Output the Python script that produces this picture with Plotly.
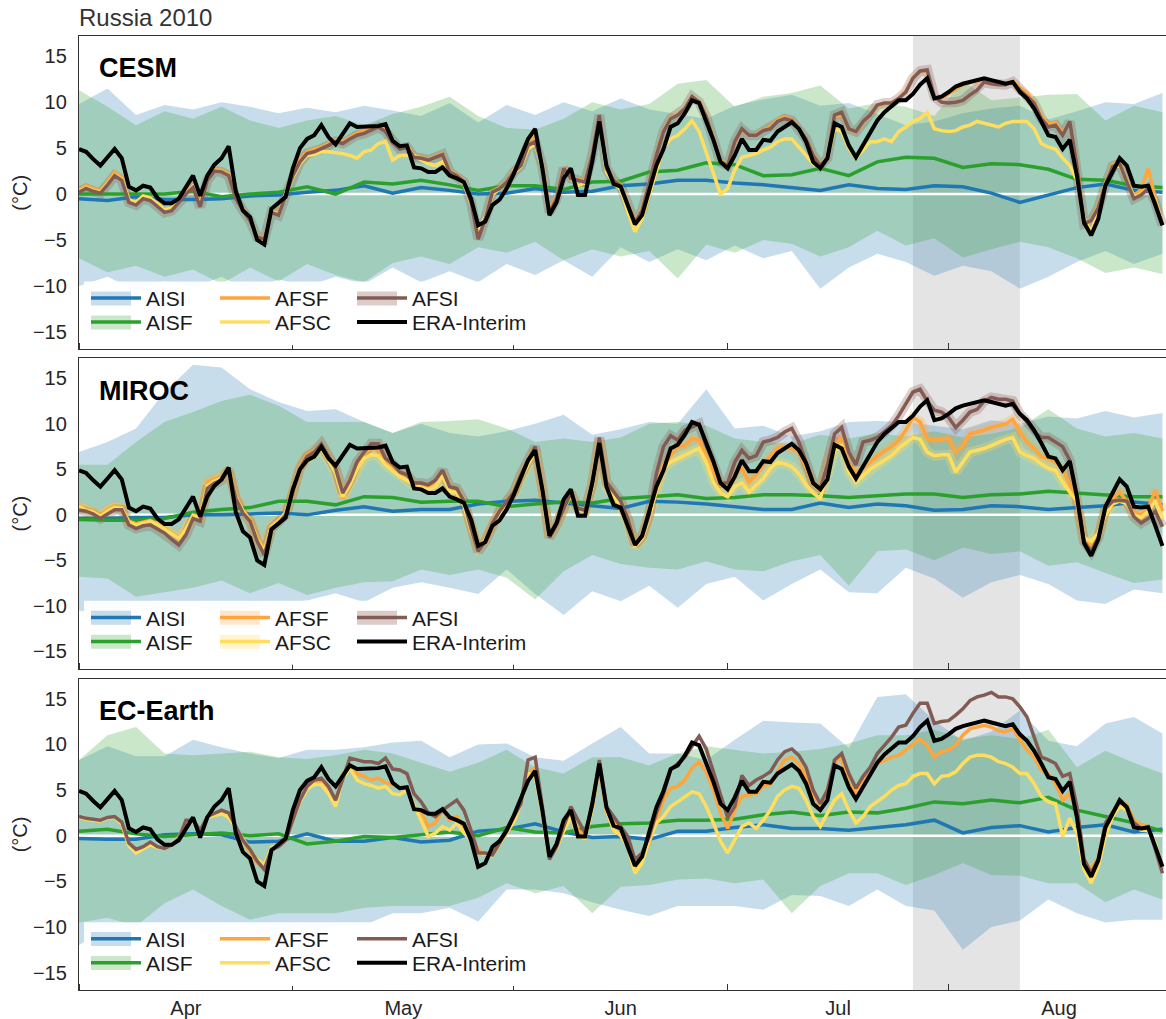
import plotly.graph_objects as go
from plotly.subplots import make_subplots
import pandas as pd

# ---------------- data ----------------
dates = pd.date_range("2010-04-01", "2010-08-31", freq="D")   # daily, 153 days
band_dates = dates[::4]                                          # ensemble spread / means, every 4 days
HEAT_START = "2010-07-27"
HEAT_END = "2010-08-11"
panel_names = ["CESM", "MIROC", "EC-Earth"]
month_ticks_start = "2010-04-01"
y_ticks = [-15, -10, -5, 0, 5, 10, 15]

era_interim = [
    4.9, 4.6, 3.8, 3.1, 4.0, 4.9, 3.9, 0.8, 0.4, 0.9,
    0.7, -0.4, -1.0, -1.0, -0.5, 0.8, 2.0, -0.2, 2.0, 3.2,
    3.9, 5.2, 0.3, -1.8, -2.5, -5.0, -5.5, -1.6, -1.0, -0.3,
    2.8, 5.0, 6.0, 6.4, 7.5, 6.2, 5.4, 6.6, 7.7, 7.3,
    7.3, 7.4, 7.4, 7.6, 5.8, 5.2, 5.3, 2.9, 2.8, 2.4,
    2.4, 2.9, 2.0, 1.7, 1.3, -0.5, -3.4, -3.0, -1.2, -0.6,
    0.6, 2.2, 4.0, 6.0, 7.1, 2.8, -2.3, -0.9, 1.7, 2.8,
    -0.1, -0.1, 3.5, 7.9, 3.1, 1.1, 0.8, -1.2, -3.3, -2.3,
    0.6, 3.1, 4.9, 7.3, 7.7, 8.8, 10.2, 9.9, 7.9, 5.9,
    3.5, 2.8, 4.2, 6.0, 4.8, 4.8, 5.9, 5.8, 6.8, 7.3,
    7.8, 7.1, 5.7, 3.5, 2.8, 3.9, 7.7, 7.3, 5.3, 4.0,
    5.3, 6.8, 8.0, 8.9, 9.5, 10.2, 10.2, 10.9, 11.9, 12.6,
    10.4, 10.6, 11.1, 11.7, 12.0, 12.2, 12.4, 12.6, 12.4, 12.2,
    12.0, 12.2, 11.1, 10.4, 9.3, 7.9, 6.4, 6.2, 4.9, 5.9,
    2.0, -3.1, -4.5, -2.7, 0.9, 2.4, 3.9, 3.1, 0.9, 0.8,
    0.9, -1.2, -3.4]

# ---- CESM ----
cesm_afsi = [
    0.2, 0.6, 0.3, 0.1, 1.0, 2.0, 1.5, -0.9, -1.2, -0.5,
    -0.7, -1.4, -2.0, -1.8, -0.9, 0.0, 0.7, -1.4, 1.5, 2.5,
    2.4, 2.0, -0.5, -1.8, -2.9, -4.7, -4.9, -2.0, -2.3, -0.1,
    2.0, 3.5, 4.4, 4.6, 4.9, 5.3, 5.7, 5.5, 6.0, 6.4,
    6.6, 6.9, 7.3, 6.8, 5.6, 4.9, 5.1, 4.0, 3.9, 3.7,
    4.0, 4.3, 2.4, 2.0, 1.3, -0.9, -4.9, -2.7, 0.2, 0.6,
    1.3, 2.4, 3.1, 5.3, 5.7, 3.1, -2.0, -0.5, 2.8, 1.7,
    1.5, 1.3, 4.2, 8.6, 2.8, 1.5, 0.9, -1.2, -3.1, -1.8,
    1.3, 4.2, 6.8, 8.2, 8.6, 9.3, 10.6, 10.0, 8.4, 6.0,
    3.5, 3.1, 5.7, 7.1, 6.4, 6.4, 6.9, 7.1, 7.9, 8.2,
    8.0, 7.1, 6.0, 4.2, 3.1, 3.9, 8.6, 8.9, 7.1, 6.8,
    7.9, 8.6, 9.7, 9.9, 9.9, 10.4, 11.1, 12.6, 13.4, 13.5,
    10.6, 10.0, 9.9, 10.0, 10.2, 10.8, 11.3, 12.2, 12.0, 11.9,
    11.9, 12.2, 11.3, 10.6, 9.9, 8.2, 7.3, 7.5, 6.4, 7.9,
    3.1, -3.2, -2.9, -1.5, 1.0, 3.0, 3.3, 1.3, -0.5, -0.1,
    0.6, -0.9, -3.4]
cesm_afsf = [
    0.5, 0.9, 0.6, 0.4, 1.3, 2.4, 1.8, -0.6, -1.0, -0.3,
    -0.5, -1.2, -1.8, -1.6, -0.7, 0.2, 0.9, -1.2, 1.7, 2.7,
    2.6, 2.2, -0.3, -1.6, -2.8, -4.6, -4.8, -1.8, -2.1, 0.1,
    2.3, 3.8, 4.6, 4.9, 5.1, 5.5, 5.9, 5.7, 6.2, 6.6,
    6.9, 7.1, 7.4, 7.0, 5.7, 5.1, 5.3, 4.2, 4.0, 3.8,
    4.1, 4.4, 2.5, 2.1, 1.4, -0.6, -4.5, -2.5, 0.3, 0.7,
    1.4, 2.6, 3.4, 5.8, 6.2, 3.2, -1.8, -0.3, 2.9, 1.8,
    1.6, 1.4, 4.3, 8.5, 2.9, 1.6, 1.0, -1.1, -3.0, -1.7,
    1.4, 4.3, 6.9, 8.3, 8.7, 9.4, 10.6, 10.1, 8.5, 6.1,
    3.6, 3.2, 5.6, 7.0, 6.3, 6.5, 7.0, 7.3, 8.1, 8.4,
    8.1, 7.2, 6.1, 4.3, 3.2, 4.0, 8.4, 8.7, 7.0, 6.7,
    7.8, 8.5, 9.6, 9.8, 9.9, 10.4, 11.2, 12.7, 13.3, 13.4,
    10.5, 10.4, 10.9, 11.5, 11.9, 12.1, 12.3, 12.4, 12.3, 12.2,
    12.0, 12.3, 11.6, 11.0, 10.0, 8.5, 7.6, 7.8, 6.6, 7.8,
    3.3, -3.0, -2.8, -1.3, 1.2, 3.2, 3.5, 1.5, -0.2, 0.5,
    2.8, -0.5, -3.3]
cesm_afsc = [
    0.3, 0.7, 0.4, 0.2, 1.1, 2.1, 1.6, -0.6, -0.9, -0.2,
    -0.4, -1.1, -1.7, -1.5, -0.7, 0.1, 0.8, -1.2, 1.6, 2.5,
    2.4, 2.0, -0.4, -1.7, -2.9, -4.8, -5.0, -1.9, -2.2, -0.2,
    1.8, 3.3, 4.2, 4.3, 4.6, 4.6, 4.5, 4.4, 4.2, 3.9,
    4.6, 4.8, 5.5, 5.7, 3.7, 4.2, 4.2, 4.2, 3.7, 3.3,
    3.1, 3.5, 2.0, 1.7, 1.1, -1.1, -3.8, -2.5, -0.1, 0.6,
    1.3, 2.3, 3.0, 4.9, 5.5, 2.8, -2.1, -0.6, 2.6, 1.7,
    0.9, 1.2, 4.0, 8.2, 2.4, 1.1, 0.5, -2.0, -4.1, -2.7,
    -0.1, 2.4, 5.0, 6.0, 6.4, 7.1, 8.0, 6.8, 4.6, 2.4,
    0.0, 0.6, 2.6, 4.0, 4.2, 4.4, 4.8, 5.1, 5.7, 6.0,
    6.0, 5.1, 4.2, 3.3, 2.8, 3.9, 7.1, 6.8, 5.0, 3.9,
    4.8, 5.7, 5.7, 6.0, 5.7, 6.8, 7.3, 7.9, 8.2, 8.9,
    7.1, 6.9, 6.8, 6.9, 7.3, 7.5, 7.9, 7.7, 7.5, 7.3,
    7.7, 7.9, 7.9, 7.9, 7.1, 5.5, 5.1, 4.9, 3.9, 3.1,
    1.5, -2.7, -4.1, -1.8, 0.8, 2.8, 3.2, 1.3, -0.3, 0.0,
    0.8, -0.7, -3.2]
cesm_aisi = [
    -0.5, -0.7, -0.3, -0.6, -0.6, -0.5, -0.2, -0.1, 0.2, 0.4,
    0.9, 0.1, 0.7, 0.4, 0.0, 0.1, 0.6, 0.2, 0.3, 0.9,
    1.1, 1.5, 1.5, 1.2, 1.0, 0.7, 0.4, 1.0, 0.6, 0.5,
    0.9, 0.8, 0.1, -0.9, -0.1, 0.7, 1.1, 0.4, 0.2]
cesm_aisf = [
    0.0, 0.0, 0.0, 0.0, 0.3, -0.3, 0.0, 0.2, 0.8, 0.0,
    1.3, 1.1, 1.5, 1.0, 0.4, 0.9, 0.9, 0.5, 1.3, 1.4,
    2.4, 2.6, 3.4, 3.2, 2.0, 2.1, 2.8, 2.0, 3.5, 4.0,
    3.9, 2.9, 3.3, 3.2, 2.7, 1.6, 1.5, 0.9, 0.7]
cesm_aisi_hi = [
    9.8, 11.5, 8.6, 9.7, 9.2, 10.0, 9.5, 8.8, 9.4, 8.9,
    9.6, 9.1, 8.5, 9.9, 7.8, 9.7, 8.6, 10.0, 9.0, 10.4,
    9.2, 8.7, 8.2, 9.6, 10.3, 10.8, 9.6, 9.9, 8.7, 7.5,
    7.9, 8.8, 9.3, 9.6, 8.1, 9.0, 10.0, 9.8, 11.0]
cesm_aisi_lo = [
    -10.0, -9.0, -10.5, -9.5, -10.2, -9.0, -10.6, -9.3, -10.0, -9.0,
    -9.8, -8.0, -9.6, -8.4, -9.6, -7.6, -8.8, -7.2, -9.0, -5.8,
    -7.4, -6.0, -7.2, -5.6, -7.0, -6.2, -10.3, -8.0, -6.5, -7.4,
    -8.9, -7.8, -8.4, -10.3, -9.0, -7.4, -6.2, -7.6, -6.5]
cesm_aisf_hi = [
    11.3, 9.5, 7.5, 9.0, 8.2, 9.5, 8.0, 7.2, 8.0, 8.5,
    7.5, 8.7, 9.5, 10.6, 8.5, 7.2, 7.0, 8.2, 10.0, 9.2,
    9.8, 12.0, 12.4, 9.5, 10.6, 11.0, 11.8, 9.3, 9.9, 9.5,
    8.5, 12.3, 10.2, 10.5, 10.8, 10.9, 8.0, 9.6, 8.9]
cesm_aisf_lo = [
    -7.0, -8.5, -7.8, -9.0, -8.2, -9.8, -8.0, -9.5, -7.6, -8.8,
    -9.6, -7.5, -6.8, -7.6, -5.8, -6.4, -5.2, -7.2, -6.0, -6.8,
    -6.2, -9.2, -5.5, -6.4, -5.0, -5.4, -6.8, -5.8, -4.0, -5.6,
    -4.8, -6.9, -6.0, -5.2, -5.8, -7.0, -8.6, -8.0, -8.7]

# ---- MIROC ----
miroc_afsi = [
    0.55, 0.4, 0.1, -0.4, 0.1, 0.55, 0.55, -1.1, -1.5, -1.2,
    -1.1, -1.6, -2.0, -2.7, -3.3, -2.2, -0.4, -0.7, 2.9, 3.5,
    3.8, 4.9, 1.8, 0.2, -0.7, -2.9, -4.4, -1.5, -0.9, 0.0,
    2.4, 5.1, 6.4, 6.9, 7.8, 6.5, 5.1, 2.4, 3.8, 5.8,
    6.9, 7.8, 7.8, 6.2, 5.6, 4.7, 4.4, 3.5, 3.5, 3.3,
    3.8, 4.9, 3.1, 2.9, 1.5, -1.5, -4.0, -2.9, -0.9, 0.4,
    1.5, 2.5, 4.4, 6.0, 7.5, 2.9, -2.5, -1.1, 0.7, 2.4,
    0.7, 0.5, 3.3, 8.5, 3.6, 2.5, 1.5, -0.4, -3.3, -2.4,
    0.0, 4.5, 7.5, 8.7, 8.2, 9.3, 9.6, 10.0, 7.6, 5.8,
    3.5, 3.5, 5.8, 7.1, 6.2, 6.5, 8.0, 8.2, 8.5, 9.1,
    9.5, 8.0, 5.8, 3.5, 2.9, 5.5, 8.9, 9.6, 6.9, 5.5,
    8.0, 8.2, 8.5, 9.1, 9.8, 10.9, 12.2, 13.5, 13.8, 12.5,
    11.5, 11.3, 10.7, 9.6, 10.4, 11.3, 11.6, 12.5, 12.9, 12.7,
    12.7, 12.5, 11.1, 10.2, 9.1, 8.5, 8.5, 8.0, 7.5, 6.0,
    2.2, -2.9, -4.0, -2.5, 0.7, 1.5, 1.6, 1.5, -0.2, -0.9,
    -0.4, 0.4, -1.3]
miroc_afsf = [
    1.0, 0.6, 0.4, 0.0, 0.6, 1.0, 0.8, -0.7, -1.0, -0.8,
    -0.6, -1.0, -1.5, -2.0, -2.5, -1.5, 0.0, -0.2, 3.6, 4.0,
    4.2, 5.0, 2.0, 0.5, -0.5, -2.5, -3.8, -1.2, -0.6, 0.3,
    2.6, 5.3, 6.6, 7.0, 7.6, 6.4, 4.9, 1.8, 3.5, 5.6,
    6.8, 7.3, 7.2, 6.0, 5.3, 4.5, 4.0, 3.4, 3.2, 3.0,
    3.3, 4.5, 2.9, 2.7, 1.3, -1.6, -3.7, -2.7, -0.8, 0.4,
    1.4, 2.4, 4.2, 5.8, 7.2, 2.8, -2.3, -0.9, 0.9, 2.4,
    0.8, 0.5, 3.2, 8.3, 3.3, 2.2, 1.2, -0.7, -3.4, -2.5,
    0.0, 3.0, 5.5, 6.5, 7.5, 7.6, 8.4, 8.2, 6.5, 4.7,
    3.3, 2.9, 4.4, 5.1, 3.6, 4.4, 5.5, 6.5, 7.3, 7.5,
    7.3, 6.9, 5.2, 3.3, 2.7, 5.8, 7.6, 8.5, 5.5, 4.7,
    5.1, 5.8, 6.5, 7.0, 7.5, 8.2, 9.3, 10.7, 10.2, 8.4,
    8.2, 8.3, 8.4, 6.9, 7.6, 8.9, 9.1, 9.3, 9.6, 9.8,
    10.0, 10.5, 9.1, 8.0, 7.3, 6.4, 6.2, 5.8, 5.1, 3.3,
    1.1, -2.9, -3.3, -2.2, 0.4, 1.8, 2.5, 1.5, 0.4, 0.0,
    0.7, 2.7, 0.4]
miroc_afsc = [
    0.9, 0.5, 0.3, -0.2, 0.4, 0.8, 0.7, -0.8, -1.1, -0.9,
    -0.7, -1.1, -1.6, -2.1, -2.6, -1.6, -0.1, -0.3, 3.2, 3.7,
    4.0, 4.8, 1.9, 0.4, -0.6, -2.7, -4.0, -1.3, -0.7, 0.2,
    2.5, 5.0, 6.2, 6.7, 7.2, 6.0, 4.6, 2.0, 3.3, 5.0,
    6.2, 6.6, 6.5, 5.5, 4.9, 4.2, 3.8, 3.2, 3.0, 2.8,
    3.1, 4.3, 2.6, 2.4, 1.0, -1.8, -3.6, -2.8, -1.0, 0.2,
    1.2, 2.2, 4.0, 5.6, 7.0, 2.6, -2.4, -1.0, 0.7, 2.2,
    0.6, 0.3, 3.0, 8.0, 3.0, 2.0, 1.0, -0.9, -3.5, -2.6,
    -0.3, 2.6, 5.1, 5.8, 6.2, 6.5, 6.9, 7.3, 5.8, 3.6,
    2.4, 2.0, 3.1, 3.5, 2.5, 3.3, 4.0, 5.1, 5.8, 5.6,
    5.3, 4.5, 3.3, 2.4, 1.8, 4.5, 7.0, 7.6, 4.7, 3.6,
    4.3, 5.0, 5.5, 6.0, 6.5, 7.3, 7.9, 8.5, 8.3, 6.9,
    6.5, 6.6, 6.6, 4.7, 5.8, 6.9, 7.1, 7.3, 7.6, 8.0,
    8.3, 8.5, 6.9, 6.5, 6.2, 5.6, 5.1, 4.9, 3.6, 2.5,
    1.5, -2.5, -2.9, -2.0, 0.0, 1.2, 1.5, 1.2, 0.0, -0.3,
    0.4, 1.5, -0.5]
miroc_aisi = [
    -0.4, -0.4, -0.3, -0.3, 0.0, 0.0, 0.1, 0.2, 0.0, 0.5,
    0.9, 0.4, 0.6, 0.6, 1.2, 1.5, 1.6, 1.3, 1.0, 0.7,
    1.5, 1.4, 1.2, 0.9, 0.6, 0.6, 1.3, 0.8, 1.2, 1.0,
    0.5, 0.6, 1.0, 0.9, 0.6, 0.8, 1.0, 1.4, 1.1]
miroc_aisf = [
    -0.5, -0.6, -0.6, -0.4, 0.3, 0.6, 0.8, 1.5, 1.5, 1.1,
    2.0, 1.9, 1.4, 1.5, 1.5, 0.9, 1.2, 1.4, 1.3, 1.8,
    2.0, 2.2, 1.8, 1.9, 2.2, 2.2, 2.1, 1.9, 2.1, 2.3,
    2.3, 1.9, 2.2, 2.3, 2.6, 2.4, 2.2, 2.0, 2.0]
miroc_aisi_hi = [
    6.9, 8.0, 9.5, 13.5, 16.5, 16.2, 13.8, 12.4, 11.4, 11.6,
    10.2, 9.0, 10.0, 9.0, 8.6, 9.2, 10.0, 11.0, 8.8, 9.4,
    10.2, 10.0, 13.8, 9.5, 9.8, 8.6, 9.2, 10.2, 10.3, 10.2,
    9.8, 9.4, 10.4, 10.0, 10.8, 10.6, 11.4, 10.7, 11.2]
miroc_aisi_lo = [
    -10.5, -11.0, -10.0, -10.5, -10.0, -11.0, -10.2, -9.8, -9.4, -8.6,
    -9.6, -8.0, -7.4, -8.0, -8.7, -6.0, -8.7, -11.0, -8.4, -9.5,
    -7.8, -10.2, -7.6, -6.8, -9.4, -7.6, -6.0, -8.5, -8.6, -5.8,
    -7.0, -9.1, -7.4, -6.6, -7.6, -9.4, -9.8, -8.2, -8.6]
miroc_aisf_hi = [
    5.5, 5.5, 8.0, 10.2, 11.3, 12.5, 13.2, 12.0, 10.2, 10.2,
    10.2, 9.0, 10.2, 10.3, 10.5, 9.5, 8.0, 8.4, 8.0, 8.5,
    10.0, 10.2, 9.8, 8.4, 8.0, 7.8, 8.8, 8.4, 9.0, 8.6,
    9.2, 8.5, 8.9, 9.6, 11.6, 9.5, 8.6, 9.0, 8.4]
miroc_aisf_lo = [
    -6.8, -7.0, -9.0, -8.5, -8.0, -7.2, -8.6, -7.5, -8.8, -8.0,
    -7.4, -7.3, -6.0, -6.6, -6.0, -6.9, -9.3, -6.2, -4.4, -5.4,
    -5.8, -6.0, -5.1, -6.0, -6.2, -5.1, -4.4, -7.8, -4.0, -3.8,
    -5.0, -3.6, -4.3, -4.0, -5.6, -5.2, -6.4, -7.5, -7.1]

# ---- EC-Earth ----
ec_afsi = [
    2.1, 1.9, 1.8, 1.7, 2.0, 2.1, 1.5, -0.8, -1.5, -1.2,
    -0.7, -1.2, -1.4, -1.0, -0.3, 1.7, 1.7, 0.6, 2.1, 2.5,
    2.8, 2.5, 1.0, -0.5, -1.5, -2.8, -3.7, -1.5, -1.2, -0.5,
    1.7, 3.9, 5.4, 6.1, 6.3, 5.4, 3.9, 6.1, 8.5, 8.3,
    8.1, 8.1, 7.9, 8.5, 7.3, 7.2, 6.8, 4.6, 3.7, 2.5,
    2.1, 2.8, 3.3, 3.9, 2.8, 0.6, -1.9, -1.9, -2.1, -0.8,
    0.5, 2.1, 3.5, 8.3, 8.6, 3.2, -2.6, -1.2, 1.0, 3.2,
    1.7, 0.3, 3.2, 8.3, 3.2, 2.1, 1.0, -0.1, -2.6, -1.9,
    -0.1, 2.5, 4.6, 7.2, 7.9, 8.6, 9.8, 10.9, 9.5, 7.0,
    4.5, 2.0, 3.2, 6.6, 5.5, 6.1, 6.5, 7.0, 8.3, 9.2,
    9.5, 8.8, 7.5, 5.0, 3.5, 5.0, 8.3, 9.0, 6.8, 5.2,
    6.5, 7.5, 9.0, 9.9, 10.8, 11.9, 12.1, 13.4, 14.5, 14.5,
    12.3, 12.5, 12.6, 13.2, 13.9, 14.8, 15.2, 15.4, 15.7, 15.2,
    15.2, 15.0, 14.1, 13.0, 10.8, 8.6, 8.3, 7.9, 6.5, 6.8,
    3.2, -2.6, -4.1, -2.6, 1.4, 2.5, 3.7, 3.2, 1.4, 0.8,
    1.0, -1.5, -4.1]
ec_afsf = [
    2.0, 1.8, 1.7, 1.6, 1.9, 2.0, 1.3, -1.0, -1.8, -1.4,
    -0.9, -1.3, -1.4, -1.0, -0.3, 1.6, 1.6, 0.5, 2.0, 2.3,
    2.6, 2.2, 0.8, -0.6, -1.8, -3.0, -3.4, -1.4, -1.1, -0.4,
    1.8, 3.9, 5.3, 5.9, 6.0, 5.2, 3.6, 6.8, 7.5, 6.8,
    6.5, 6.1, 6.3, 5.8, 5.6, 5.3, 5.2, 3.2, 2.5, 1.0,
    1.4, 2.8, 1.7, 2.1, 1.0, -0.1, -1.5, -2.1, -2.1, -0.8,
    0.3, 1.7, 3.9, 6.8, 7.5, 2.5, -2.5, -1.0, 1.0, 2.6,
    0.6, 0.0, 3.0, 7.5, 2.5, 1.4, 0.6, -0.5, -3.5, -2.6,
    -0.8, 1.7, 3.9, 5.2, 5.4, 6.1, 7.4, 8.1, 7.0, 5.0,
    2.5, 0.8, 2.8, 4.3, 4.5, 4.6, 5.4, 5.6, 7.0, 8.3,
    8.6, 7.9, 6.5, 4.5, 3.4, 5.0, 7.9, 8.6, 5.7, 4.8,
    6.0, 6.8, 7.9, 8.3, 8.6, 8.8, 9.4, 9.9, 10.6, 9.9,
    8.6, 9.2, 9.4, 9.9, 11.0, 11.7, 11.9, 12.1, 11.9, 11.5,
    11.4, 11.7, 10.5, 9.4, 8.6, 7.2, 6.8, 5.7, 3.9, 4.6,
    2.8, -2.6, -3.7, -2.4, 1.2, 2.5, 3.9, 3.4, 1.7, 1.2,
    1.0, -1.2, -3.7]
ec_afsc = [
    2.0, 1.8, 1.7, 1.6, 1.9, 2.0, 1.3, -1.1, -1.9, -1.5,
    -1.0, -1.3, -1.4, -0.9, -0.2, 1.6, 1.6, 0.6, 2.0, 2.2,
    2.4, 2.0, 0.8, -0.4, -1.5, -2.6, -3.2, -1.3, -1.0, -0.4,
    1.7, 3.7, 5.1, 5.6, 5.6, 4.6, 3.2, 6.3, 7.4, 6.1,
    5.7, 5.5, 5.2, 5.4, 4.6, 4.5, 5.0, 3.4, 1.7, -0.1,
    0.3, 1.0, 0.6, 1.4, 0.3, -0.5, -1.9, -2.0, -2.2, -0.9,
    0.3, 1.5, 3.5, 6.8, 6.5, 2.5, -2.2, -1.4, 0.5, 2.0,
    -0.1, -0.3, 2.9, 7.9, 2.8, 0.6, 0.0, -1.2, -4.1, -3.0,
    -0.5, 1.4, 2.1, 3.2, 3.7, 4.3, 4.8, 4.6, 3.2, 1.4,
    -0.6, -1.9, -0.5, 1.0, 1.4, 0.8, 1.7, 2.8, 4.3, 5.0,
    5.4, 5.2, 3.9, 2.1, 1.0, 2.5, 3.9, 4.6, 2.8, 1.4,
    2.1, 3.2, 3.7, 4.3, 5.0, 5.5, 5.7, 6.5, 6.8, 6.8,
    5.7, 6.5, 6.6, 7.0, 7.9, 8.6, 8.8, 8.8, 8.6, 8.1,
    7.9, 7.5, 6.8, 6.8, 5.7, 4.3, 3.7, 3.5, -0.1, 1.9,
    0.3, -3.7, -5.2, -3.4, -0.1, 2.1, 3.2, 2.8, 1.4, 0.6,
    0.6, -0.8, -3.5]
ec_aisi = [
    -0.3, -0.4, -0.4, 0.1, 0.2, 0.1, -0.7, -0.6, 0.2, -0.6,
    -0.6, -0.2, -0.7, -0.5, 0.5, 0.7, 1.3, 0.4, -0.2, -0.1,
    -0.4, 0.5, 0.5, 0.9, 1.2, 0.8, 0.8, 0.6, 0.9, 1.2,
    1.7, 0.3, 0.9, 1.1, 0.4, 0.9, 1.2, 0.4, 0.7]
ec_aisf = [
    0.5, 0.7, 0.2, -0.1, 0.1, 0.3, 0.0, 0.2, -0.9, -0.6,
    -0.1, -0.2, 0.1, 0.4, 0.0, 0.9, 0.4, 0.3, 1.0, 1.3,
    1.4, 1.7, 1.7, 1.8, 2.3, 2.6, 2.2, 2.6, 2.5, 3.0,
    3.7, 3.5, 3.9, 3.6, 4.2, 2.8, 2.1, 1.4, 0.5]
ec_aisi_hi = [
    8.3, 9.8, 8.7, 8.7, 10.5, 9.7, 9.0, 8.5, 9.4, 9.4,
    9.7, 10.2, 10.4, 8.6, 10.0, 10.1, 8.6, 8.2, 10.1, 11.9,
    9.0, 9.0, 8.3, 10.5, 12.6, 12.4, 12.3, 9.6, 15.2, 15.5,
    12.6, 10.4, 11.4, 13.7, 10.4, 9.8, 12.3, 13.0, 11.2]
ec_aisi_lo = [
    -12.0, -10.0, -10.5, -11.0, -10.2, -10.8, -10.0, -11.0, -10.4, -10.0,
    -9.8, -8.5, -8.5, -7.9, -9.4, -5.9, -5.9, -6.3, -7.3, -8.1,
    -8.8, -7.7, -7.7, -7.7, -8.1, -6.5, -6.6, -7.7, -5.9, -7.7,
    -8.2, -12.5, -10.0, -9.3, -7.0, -8.5, -9.5, -9.2, -9.2]
ec_aisf_hi = [
    8.3, 11.0, 11.9, 9.0, 8.8, 9.0, 9.2, 8.6, 8.4, 8.8,
    9.4, 9.0, 8.0, 7.0, 8.0, 9.4, 7.5, 6.8, 8.6, 8.6,
    7.7, 9.0, 9.8, 9.4, 9.0, 9.2, 9.5, 10.1, 11.0, 11.0,
    11.6, 10.6, 11.0, 10.6, 11.6, 7.5, 9.3, 8.0, 6.8]
ec_aisf_lo = [
    -9.5, -9.0, -9.9, -7.4, -5.9, -7.7, -9.2, -8.5, -8.5, -8.5,
    -7.9, -7.7, -7.7, -7.7, -6.8, -5.2, -6.3, -5.5, -8.5, -5.6,
    -5.4, -4.8, -4.7, -5.2, -4.8, -8.5, -5.5, -4.1, -4.1, -5.4,
    -4.3, -3.0, -4.3, -4.4, -5.2, -5.2, -7.3, -5.9, -7.0]

# ---------------- styling ----------------
FONT = "Liberation Sans, Arial, Helvetica, sans-serif"
TXT = "#262626"
C_AISI = "#1f77b4"
C_AISF = "#2ca02c"
C_AFSF = "#ffa53c"
C_AFSC = "#ffde5f"
C_AFSI = "#825c54"
C_ERA = "#000000"
BAND_AISI = "rgba(31,119,180,0.25)"
BAND_AISF = "rgba(44,160,44,0.25)"
HALO = {"afsf": "rgba(255,165,60,0.28)", "afsc": "rgba(255,222,95,0.30)", "afsi": "rgba(140,86,75,0.28)"}
LEG_BOX = {"aisi": BAND_AISI, "aisf": BAND_AISF, "afsf": "rgba(255,165,60,0.25)",
           "afsc": "rgba(255,222,95,0.30)", "afsi": "rgba(140,86,75,0.30)"}

panels = [
    dict(name="CESM", afsf=cesm_afsf, afsc=cesm_afsc, afsi=cesm_afsi, aisi=cesm_aisi, aisf=cesm_aisf,
         aisi_lo=cesm_aisi_lo, aisi_hi=cesm_aisi_hi, aisf_lo=cesm_aisf_lo, aisf_hi=cesm_aisf_hi,
         halo=["afsi"], boxes=["aisi", "aisf", "afsi"]),
    dict(name="MIROC", afsf=miroc_afsf, afsc=miroc_afsc, afsi=miroc_afsi, aisi=miroc_aisi, aisf=miroc_aisf,
         aisi_lo=miroc_aisi_lo, aisi_hi=miroc_aisi_hi, aisf_lo=miroc_aisf_lo, aisf_hi=miroc_aisf_hi,
         halo=["afsf", "afsc", "afsi"], boxes=["aisi", "aisf", "afsf", "afsc", "afsi"]),
    dict(name="EC-Earth", afsf=ec_afsf, afsc=ec_afsc, afsi=ec_afsi, aisi=ec_aisi, aisf=ec_aisf,
         aisi_lo=ec_aisi_lo, aisi_hi=ec_aisi_hi, aisf_lo=ec_aisf_lo, aisf_hi=ec_aisf_hi,
         halo=[], boxes=["aisi", "aisf"]),
]

assert len(era_interim) == len(dates)
for p in panels:
    for k in ("afsf", "afsc", "afsi"):
        assert len(p[k]) == len(dates), (p["name"], k, len(p[k]))
    for k in ("aisi", "aisf", "aisi_lo", "aisi_hi", "aisf_lo", "aisf_hi"):
        assert len(p[k]) == len(band_dates), (p["name"], k, len(p[k]))

# layout geometry (pixels -> paper)
W, H = 1166, 1019
L_PX = 79
top_px, bot_px = 36, 992
plot_h = bot_px - top_px
panel_px = [(36, 350), (359, 670), (680, 992)]


def py(y):
    return (bot_px - y) / plot_h


def px(x):
    return (x - L_PX) / (W - L_PX)


fig = make_subplots(rows=3, cols=1, shared_xaxes=True, vertical_spacing=0.01)

legend_cols_px = [86, 215, 352]
legend_rows_off = [51, 27]
ITEM_W = 50
legend_layout = {}
leg_idx = 0

for i, p in enumerate(panels):
    row = i + 1
    t, b = panel_px[i]
    for lo, hi, fc in [(p["aisi_lo"], p["aisi_hi"], BAND_AISI), (p["aisf_lo"], p["aisf_hi"], BAND_AISF)]:
        fig.add_trace(go.Scatter(x=band_dates, y=lo, mode="lines", line=dict(width=0),
                                 showlegend=False, hoverinfo="skip"), row=row, col=1)
        fig.add_trace(go.Scatter(x=band_dates, y=hi, mode="lines", line=dict(width=0), fill="tonexty",
                                 fillcolor=fc, showlegend=False, hoverinfo="skip"), row=row, col=1)
    # white zero reference line
    fig.add_trace(go.Scatter(x=[dates[0], dates[-1]], y=[0, 0], mode="lines",
                             line=dict(color="white", width=2.5), showlegend=False, hoverinfo="skip"),
                  row=row, col=1)
    for k in p["halo"]:
        fig.add_trace(go.Scatter(x=dates, y=p[k], mode="lines", line=dict(color=HALO[k], width=10),
                                 showlegend=False, hoverinfo="skip"), row=row, col=1)

    # white legend box (drawn above the data, beneath the legend entries)
    fig.add_shape(type="rect", xref="paper", yref="paper", x0=px(84), x1=px(545),
                  y0=py(b - 4), y1=py(b - 68), fillcolor="rgba(255,255,255,0.92)", line_width=0,
                  layer="above")

    specs = [
        ("aisi", "AISI", band_dates, p["aisi"], C_AISI, 3.5, 0, 0),
        ("aisf", "AISF", band_dates, p["aisf"], C_AISF, 3.5, 0, 1),
        ("afsf", "AFSF", dates, p["afsf"], C_AFSF, 3.5, 1, 0),
        ("afsc", "AFSC", dates, p["afsc"], C_AFSC, 3.5, 1, 1),
        ("afsi", "AFSI", dates, p["afsi"], C_AFSI, 3.5, 2, 0),
        ("era", "ERA-Interim", dates, era_interim, C_ERA, 4, 2, 1),
    ]
    for key, name, xs, ys, col, w, c, r in specs:
        leg_idx += 1
        leg = "legend" if leg_idx == 1 else f"legend{leg_idx}"
        ry = b - legend_rows_off[r]
        legend_layout[leg] = dict(
            x=px(legend_cols_px[c]), xanchor="left", y=py(ry), yanchor="middle",
            bgcolor="rgba(0,0,0,0)", borderwidth=0, orientation="v", itemwidth=ITEM_W,
            font=dict(family=FONT, size=21, color="#1a1a1a"))
        fig.add_trace(go.Scatter(x=xs, y=ys, mode="lines", name=name, line=dict(color=col, width=w),
                                 legend=leg, showlegend=True), row=row, col=1)
        if key in p["boxes"]:
            x0 = legend_cols_px[c] + 5
            fig.add_shape(type="rect", xref="paper", yref="paper", x0=px(x0), x1=px(x0 + ITEM_W - 10),
                          y0=py(ry + 7), y1=py(ry - 7), fillcolor=LEG_BOX[key], line_width=0,
                          layer="above")

# heat-wave shading
fig.add_vrect(x0=HEAT_START, x1=HEAT_END, row="all", col=1, fillcolor="#e4e4e4", line_width=0, layer="below")

x_end = dates[-1] + pd.Timedelta(hours=12)
for i, (t, b) in enumerate(panel_px):
    row = i + 1
    fig.update_yaxes(domain=[py(b), py(t)], range=[-16.9, 17.2], tickvals=y_ticks,
                     showgrid=False, zeroline=False, showline=True, linecolor="#333", linewidth=1.3,
                     mirror=False, ticks="", ticklabelstandoff=7,
                     tickfont=dict(family=FONT, size=20, color=TXT), row=row, col=1)
    fig.update_xaxes(type="date", range=[dates[0], x_end], tick0=month_ticks_start, dtick="M1",
                     ticklabelmode="period", tickformat="%b", ticks="inside", ticklen=6, tickwidth=1.2,
                     tickcolor="#333", showgrid=False, zeroline=False, showline=True, mirror=True,
                     linecolor="#333", linewidth=1.3, showticklabels=(row == 3),
                     tickfont=dict(family=FONT, size=20, color=TXT), row=row, col=1)

fig.update_layout(**legend_layout)

annotations = []
label_y = [68, 392, 712]
for i, p in enumerate(panels):
    annotations.append(dict(text=f"<b>{p['name']}</b>", x=px(97), y=py(label_y[i]),
                            xref="paper", yref="paper", xanchor="left", yanchor="middle", showarrow=False,
                            font=dict(family=FONT, size=27, color="#000")))
    t, b = panel_px[i]
    annotations.append(dict(text="(°C)", x=px(20), y=py((t + b) / 2), xref="paper", yref="paper",
                            xanchor="center", yanchor="middle", textangle=-90, showarrow=False,
                            font=dict(family=FONT, size=20, color=TXT)))

fig.update_layout(
    width=W, height=H,
    margin=dict(l=L_PX, r=0, t=top_px, b=H - bot_px, pad=0),
    paper_bgcolor="white", plot_bgcolor="white",
    title=dict(text="Russia 2010", x=L_PX / W, xanchor="left", xref="container", y=1 - 18 / H,
               yref="container", yanchor="middle", font=dict(family=FONT, size=24, color="#333")),
    annotations=annotations,
    hovermode=False,
)

fig.write_html("out.html", config={"displayModeBar": False},
               post_script="document.body.style.margin='0';document.body.style.overflow='hidden';")
